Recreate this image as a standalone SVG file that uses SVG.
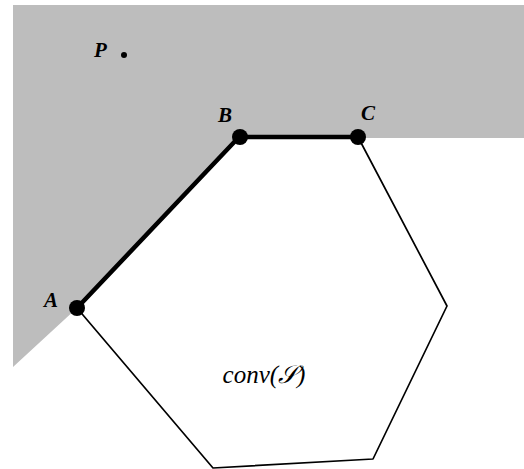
<svg xmlns="http://www.w3.org/2000/svg" width="524" height="469" viewBox="0 0 524 469">
<style>
.lbl{font-family:"Liberation Serif","DejaVu Serif",serif;font-style:italic;fill:#000}
.thin{fill:none;stroke:#000;stroke-width:1.7;stroke-linejoin:round}
.thick{fill:none;stroke:#000;stroke-width:4.5;stroke-linecap:round;stroke-linejoin:round}
.pt{fill:#000}
</style>
<rect width="524" height="469" fill="#fff"/>
<g id="region">
<polygon points="13,5 524,5 524,138 358,138 239,137 77,308 13,367" fill="#bdbdbd"/>
</g>
<g id="hull">
<polygon points="77,308 239,137 358,137 447,306 373,459 213,468" fill="#fff"/>
<text class="lbl" x="264" y="383" font-size="25" text-anchor="middle">conv(𝒮)</text>
</g>
<g id="connectors">
<polyline class="thin" points="358,137 447,306 373,459 213,468 77,308"/>
<polyline class="thick" points="77,308 239,137 358,137"/>
</g>
<g id="nodeA"><circle class="pt" cx="77" cy="308" r="8"/><text class="lbl" x="44" y="307" font-size="21" font-weight="bold">A</text></g>
<g id="nodeB"><circle class="pt" cx="240" cy="137" r="8"/><text class="lbl" x="218" y="122" font-size="21" font-weight="bold">B</text></g>
<g id="nodeC"><circle class="pt" cx="358" cy="137" r="8"/><text class="lbl" x="361" y="120" font-size="21" font-weight="bold">C</text></g>
<g id="nodeP"><circle class="pt" cx="124" cy="55" r="3"/><text class="lbl" x="94" y="57" font-size="21" font-weight="bold">P</text></g>
</svg>
